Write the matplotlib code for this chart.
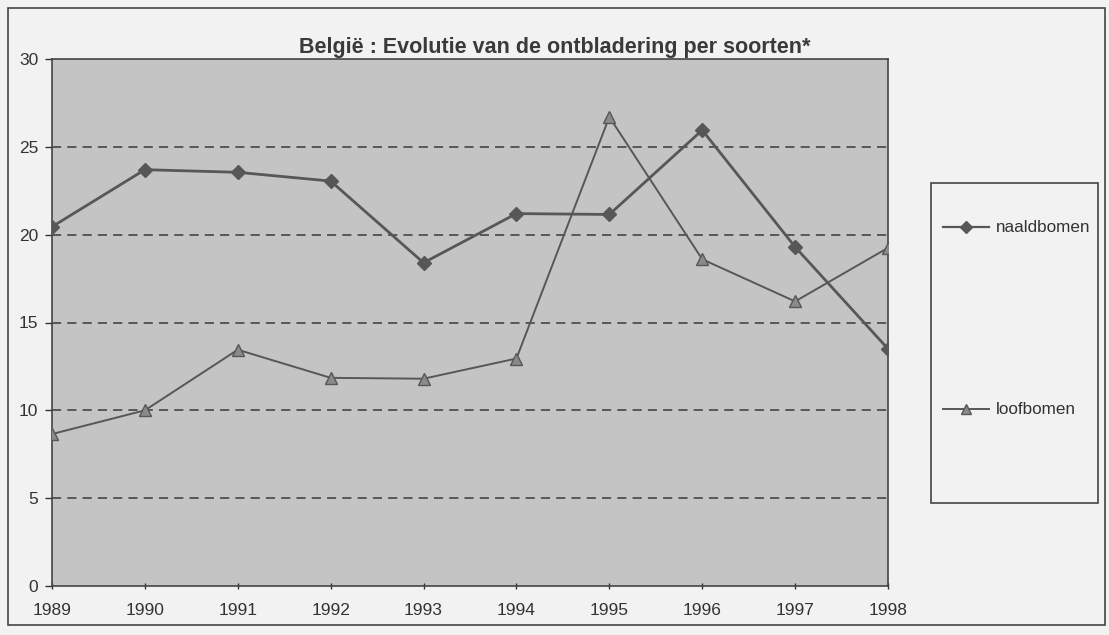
import matplotlib
matplotlib.use("Agg")
import matplotlib.pyplot as plt
from matplotlib.patches import Rectangle
from matplotlib.lines import Line2D

years = [1989, 1990, 1991, 1992, 1993, 1994, 1995, 1996, 1997, 1998]
naaldbomen = [20.45, 23.7, 23.55, 23.05, 18.4, 21.2, 21.15, 25.95, 19.3, 13.5]
loofbomen = [8.65, 10.0, 13.45, 11.85, 11.8, 12.95, 26.7, 18.6, 16.2, 19.25]
yticks = [0, 5, 10, 15, 20, 25, 30]
title = "België : Evolutie van de ontbladering per soorten*"

plt.rcParams['font.family'] = ['Liberation Sans', 'DejaVu Sans']

W, H = 1109, 635
fig = plt.figure(figsize=(W / 100, H / 100), dpi=100)
fig.patch.set_facecolor('#f2f2f2')

def fx(px):
    return px / W

def fy(py):
    return 1 - py / H

ax = fig.add_axes([fx(52), fy(586), fx(888) - fx(52), fy(59) - fy(586)])
ax.set_facecolor('#c4c4c4')

line_col = '#575757'
ax.plot(years, naaldbomen, color=line_col, lw=2.0, marker='D', ms=7,
        mfc=line_col, mec=line_col, label='naaldbomen', zorder=3)
ax.plot(years, loofbomen, color=line_col, lw=1.4, marker='^', ms=8,
        mfc='#8a8a8a', mec=line_col, label='loofbomen', zorder=3)

ax.set_xlim(years[0], years[-1])
ax.set_ylim(0, 30)
ax.set_xticks(years)
ax.set_yticks(yticks)
ax.tick_params(axis='both', labelsize=12.5, colors='#333333', length=5, width=1)
ax.tick_params(axis='x', direction='inout', pad=10)
ax.tick_params(axis='y', direction='out', pad=5)

for v in yticks[1:-1]:
    ax.axhline(v, color='#3a3a3a', lw=1.1, ls=(0, (6, 4)), zorder=1)

for s in ax.spines.values():
    s.set_color('#444444')
    s.set_linewidth(1.2)

fig.text(fx(555), fy(53), title, ha='center', va='baseline',
         fontsize=15.5, fontweight='bold', color='#3a3a3a')

# Legend box
fig.patches.append(Rectangle((fx(931), fy(503)), fx(1098) - fx(931), fy(183) - fy(503),
                             transform=fig.transFigure, facecolor='#f2f2f2',
                             edgecolor='#444444', lw=1.2, zorder=0))
h1 = Line2D([], [], color=line_col, lw=1.6, marker='D', ms=6, mfc=line_col, mec=line_col)
h2 = Line2D([], [], color=line_col, lw=1.4, marker='^', ms=7, mfc='#8a8a8a', mec=line_col)
for h, lab, yy in [(h1, 'naaldbomen', 228), (h2, 'loofbomen', 410)]:
    fig.legend([h], [lab], loc='center left', bbox_to_anchor=(fx(943), fy(yy)),
               frameon=False, fontsize=12.3, handlelength=2.7, handletextpad=0.4,
               borderpad=0, borderaxespad=0, labelcolor='#333333')

# Outer border
fig.patches.append(Rectangle((fx(8), fy(625)), fx(1105) - fx(8), fy(8) - fy(625),
                             transform=fig.transFigure, facecolor='none',
                             edgecolor='#444444', lw=1.2, zorder=0))

fig.savefig('out.png', dpi=100, facecolor=fig.get_facecolor())
